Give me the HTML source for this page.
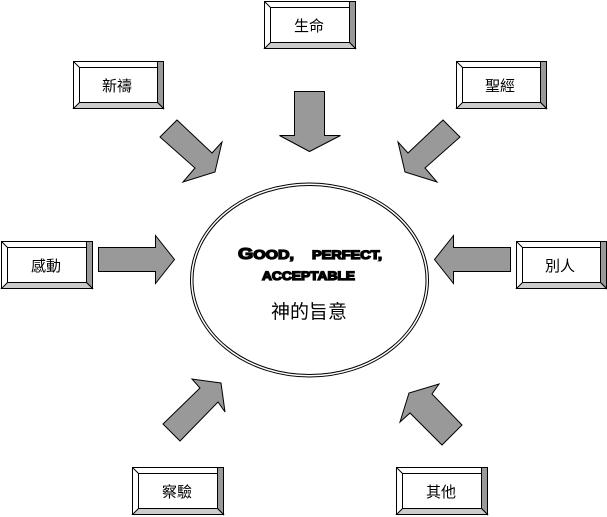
<!DOCTYPE html>
<html><head><meta charset="utf-8"><style>
html,body{margin:0;padding:0;background:#fff;}
svg{display:block;}
text{font-family:"Liberation Sans","Noto Sans CJK TC",sans-serif;}
</style></head><body>
<svg width="607" height="517" viewBox="0 0 607 517" xmlns="http://www.w3.org/2000/svg">
<g stroke="#000" stroke-width="1" fill="#999">
<polygon points="294.5,91.5 324.5,91.5 324.5,135.5 340.5,135.5 309.5,151.5 279.5,135.5 294.5,135.5"/>
<polygon points="160,137 177,120 212,153 222,142 215,172 183,182 195,168"/>
<polygon points="460,137 443,120 408,153 398,142 405,172 437,182 425,168"/>
<polygon points="98.5,247.5 155.5,247.5 155.5,235.5 174.5,259.5 155.5,283.5 155.5,271.5 98.5,271.5"/>
<polygon points="510.5,247.5 453.5,247.5 453.5,235.5 434.5,259.5 453.5,283.5 453.5,271.5 510.5,271.5"/>
<polygon points="163,424 180,441 218,402 225,412 221,383 192,379 200,388"/>
<polygon points="400,422 409,393 439,384 432,394 462,425 442,445 410,413"/>
</g>
<ellipse cx="309.5" cy="280" rx="119" ry="97" fill="#fff" stroke="#000" stroke-width="1"/>
<ellipse cx="309.5" cy="280" rx="116.5" ry="94.5" fill="none" stroke="#000" stroke-width="1"/>
<g font-weight="900" stroke="#000" stroke-width="1.3" fill="#000">
<text x="238" y="259" font-size="13" textLength="56" lengthAdjust="spacingAndGlyphs"><tspan font-size="16">G</tspan>OOD,</text>
<text x="312" y="259" font-size="12" textLength="70" lengthAdjust="spacingAndGlyphs">PERFECT,</text>
<text x="262" y="280" font-size="12" textLength="93" lengthAdjust="spacingAndGlyphs">ACCEPTABLE</text>
</g>
<text x="309" y="318" font-size="19" text-anchor="middle">神的旨意</text>

<g stroke="#000" stroke-width="1">
<g transform="translate(264.5,1.5)">
<rect width="91" height="47" fill="#fff"/>
<polygon points="85,0 91,0 91,47 85,41 85,6" fill="#999"/>
<polygon points="0,47 91,47 85,41 6,41" fill="#ccc"/>
<rect x="6" y="6" width="79" height="35" fill="#fff"/>
<line x1="0" y1="0" x2="6" y2="6"/>
</g>
<g transform="translate(73.5,61.5)">
<rect width="90" height="47" fill="#fff"/>
<polygon points="84,0 90,0 90,47 84,41 84,6" fill="#999"/>
<polygon points="0,47 90,47 84,41 6,41" fill="#ccc"/>
<rect x="6" y="6" width="78" height="35" fill="#fff"/>
<line x1="0" y1="0" x2="6" y2="6"/>
</g>
<g transform="translate(456.5,61.5)">
<rect width="90" height="47" fill="#fff"/>
<polygon points="84,0 90,0 90,47 84,41 84,6" fill="#999"/>
<polygon points="0,47 90,47 84,41 6,41" fill="#ccc"/>
<rect x="6" y="6" width="78" height="35" fill="#fff"/>
<line x1="0" y1="0" x2="6" y2="6"/>
</g>
<g transform="translate(1.5,241.5)">
<rect width="91" height="47" fill="#fff"/>
<polygon points="85,0 91,0 91,47 85,41 85,6" fill="#999"/>
<polygon points="0,47 91,47 85,41 6,41" fill="#ccc"/>
<rect x="6" y="6" width="79" height="35" fill="#fff"/>
<line x1="0" y1="0" x2="6" y2="6"/>
</g>
<g transform="translate(516.5,241.5)">
<rect width="90" height="47" fill="#fff"/>
<polygon points="84,0 90,0 90,47 84,41 84,6" fill="#999"/>
<polygon points="0,47 90,47 84,41 6,41" fill="#ccc"/>
<rect x="6" y="6" width="78" height="35" fill="#fff"/>
<line x1="0" y1="0" x2="6" y2="6"/>
</g>
<g transform="translate(132.5,467.5)">
<rect width="91" height="47" fill="#fff"/>
<polygon points="85,0 91,0 91,47 85,41 85,6" fill="#999"/>
<polygon points="0,47 91,47 85,41 6,41" fill="#ccc"/>
<rect x="6" y="6" width="79" height="35" fill="#fff"/>
<line x1="0" y1="0" x2="6" y2="6"/>
</g>
<g transform="translate(396.5,467.5)">
<rect width="91" height="47" fill="#fff"/>
<polygon points="85,0 91,0 91,47 85,41 85,6" fill="#999"/>
<polygon points="0,47 91,47 85,41 6,41" fill="#ccc"/>
<rect x="6" y="6" width="79" height="35" fill="#fff"/>
<line x1="0" y1="0" x2="6" y2="6"/>
</g>
</g>
<g font-size="15" text-anchor="middle">
<text x="309" y="31">生命</text>
<text x="117" y="91">新禱</text>
<text x="500" y="91">聖經</text>
<text x="46" y="271">感動</text>
<text x="560" y="271">別人</text>
<text x="177" y="497">察驗</text>
<text x="441" y="497">其他</text>
</g>
</svg>
</body></html>
